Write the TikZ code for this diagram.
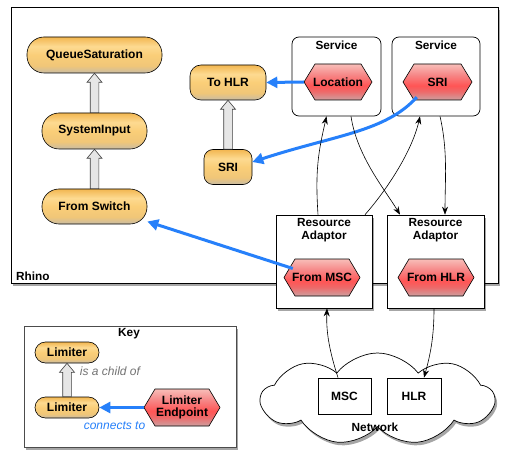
\documentclass[tikz,border=0pt]{standalone}
\usepackage{fontspec}
\setmainfont{Liberation Sans}
\usetikzlibrary{arrows.meta,shapes.misc,shapes.symbols,shadows,calc}
\definecolor{orA}{RGB}{242,182,80}
\definecolor{orB}{RGB}{253,218,145}
\definecolor{orM}{RGB}{250,206,120}
\definecolor{orL}{RGB}{240,198,120}
\definecolor{orC}{RGB}{200,188,165}
\definecolor{hxA}{RGB}{248,190,185}
\definecolor{hxU}{RGB}{246,135,135}
\definecolor{hxB}{RGB}{255,85,85}
\definecolor{hxL}{RGB}{238,105,105}
\definecolor{hxC}{RGB}{205,160,160}
\definecolor{lblue}{RGB}{38,128,250}
\definecolor{hgrey}{RGB}{230,230,230}
\pgfdeclareverticalshading{orshade}{100bp}{color(0bp)=(orC); color(25bp)=(orC); color(35bp)=(orL); color(50bp)=(orM); color(62bp)=(orB); color(75bp)=(orA); color(100bp)=(orA)}
\pgfdeclareverticalshading{hxshade}{100bp}{color(0bp)=(hxC); color(25bp)=(hxC); color(37bp)=(hxL); color(45bp)=(hxB); color(60bp)=(hxU); color(75bp)=(hxA); color(100bp)=(hxA)}
\newcommand\hexnode[6]{% name, x, y, w, h, text
  \path[hexshape] (#2-#4/2,#3) -- (#2-#4/2+11,#3-#5/2) -- (#2+#4/2-11,#3-#5/2) -- (#2+#4/2,#3) -- (#2+#4/2-11,#3+#5/2) -- (#2-#4/2+11,#3+#5/2) -- cycle;
  \node[hextext, minimum width=#4, minimum height=#5] (#1) at (#2,#3) {#6};
}
\newcommand\childarrow[2]{%
  \path[hollow] let \p1=(#1.north), \p2=(#2.south) in
    (\x1-4.3pt,\y1) -- (\x1-4.3pt,\y2-9pt) -- (\x1-7.5pt,\y2-9pt) -- (\x1,\y2) -- (\x1+7.5pt,\y2-9pt) -- (\x1+4.3pt,\y2-9pt) -- (\x1+4.3pt,\y1) -- cycle;
}
\tikzset{
  shad/.style={drop shadow={shadow xshift=2pt,shadow yshift=-3pt,opacity=.35,fill=black}},
  orangenode/.style={draw=black, line width=0.6pt, shading=orshade, inner sep=0pt, font=\fontsize{12}{13}\selectfont\bfseries},
  hexshape/.style={draw=black, line width=0.6pt, shading=hxshade},
  hextext/.style={inner sep=0pt, align=center, font=\fontsize{12}{12.5}\selectfont\bfseries},
  boxnode/.style={draw=black, line width=0.7pt, fill=white, inner sep=0pt},
  title/.style={inner sep=0pt, align=center, font=\fontsize{11.8}{13.5}\selectfont\bfseries},
  hollow/.style={draw=black!75, line width=0.6pt, fill=hgrey},
  bluearrow/.style={draw=lblue, line width=3pt, -{Triangle[length=11pt,width=11pt]}},
  ctl/.style={draw=black, line width=0.6pt, -{Stealth[length=8pt,width=6pt]}},
}
\begin{document}
\begin{tikzpicture}[x=1pt,y=-1pt]
\useasboundingbox (0,0) rectangle (513,462);
% Rhino container
\node[boxnode, shad, minimum width=487, minimum height=276] (rhino) at (254.5,145) {};
\node[title, anchor=west] (rhinolbl) at (16,276) {Rhino};
% Service boxes
\node[boxnode, rounded corners=7, minimum width=89, minimum height=79] (svc1) at (336.5,76.5) {};
\node[title] (svc1t) at (336.5,45) {Service};
\node[boxnode, rounded corners=7, minimum width=88, minimum height=79] (svc2) at (436,76.5) {};
\node[title] (svc2t) at (436,45) {Service};
% orange nodes
\node[orangenode, rounded corners=17, minimum width=135, minimum height=36] (qs) at (94.5,55) {QueueSaturation};
\node[orangenode, rounded corners=17, minimum width=105, minimum height=36] (sys) at (94.5,131) {SystemInput};
\node[orangenode, rounded corners=17, minimum width=105, minimum height=35] (fsw) at (94.5,206.5) {From Switch};
\node[orangenode, rounded corners=11, minimum width=76, minimum height=35] (tohlr) at (228,82.5) {To HLR};
\node[orangenode, rounded corners=9, minimum width=48, minimum height=35] (sri1) at (228,167) {SRI};
\childarrow{sys}{qs}
\childarrow{fsw}{sys}
\childarrow{sri1}{tohlr}
% hexagons in services
\hexnode{loc}{338}{82}{68}{36}{Location}
\hexnode{sri2}{437.5}{82}{69}{36}{SRI}
% resource adaptors
\node[boxnode, shad, minimum width=96, minimum height=93] (ra1) at (324,261.5) {};
\node[title] (ra1t) at (324,230) {Resource\\Adaptor};
\node[boxnode, shad, minimum width=97, minimum height=93] (ra2) at (435.5,261.5) {};
\node[title] (ra2t) at (435.5,230) {Resource\\Adaptor};
\hexnode{msc}{322}{277.5}{76}{37}{From MSC}
\hexnode{fhlr}{436}{277.5}{76}{37}{From HLR}
% network cloud
\node[cloud, cloud puffs=9, cloud puff arc=105, aspect=2.5, draw=black, line width=0.7pt, fill=white, shad, minimum width=233, minimum height=92, inner sep=0pt] (net) at (377.5,399) {};
\node[title] (netlbl) at (375,427.5) {Network};
\node[boxnode, minimum width=53, minimum height=36] (mscb) at (344.5,396) {\fontsize{12}{13}\selectfont\bfseries MSC};
\node[boxnode, minimum width=54, minimum height=36] (hlrb) at (414,396) {\fontsize{12}{13}\selectfont\bfseries HLR};
% key
\node[boxnode, draw=black!70, shad, minimum width=212, minimum height=121] (key) at (130,386.5) {};
\node[title] (keyt) at (129,334) {Key};
\node[orangenode, rounded corners=10.5, minimum width=64, minimum height=21] (lim1) at (67,352.5) {Limiter};
\node[orangenode, rounded corners=10.5, minimum width=64, minimum height=21] (lim2) at (67,407.5) {Limiter};
\childarrow{lim2}{lim1}
\node[inner sep=0pt, text=black!55, font=\fontsize{12}{14}\selectfont\itshape] (childlbl) at (110,371) {is a child of};
\hexnode{lep}{182}{407.5}{76}{37}{Limiter\\Endpoint}
\node[inner sep=0pt, text=lblue, font=\fontsize{12}{14}\selectfont\itshape] (connlbl) at (114.5,425.5) {connects to};
% connectors
\draw[bluearrow] (lep.west) -- (lim2.east);
\draw[bluearrow] (loc.west) -- (tohlr.east);
\draw[bluearrow] ($(sri2.south west)+(14,-3)$) .. controls (385,132) and (335,135) .. ($(sri1.east)+(0,-5)$);
\draw[bluearrow] ($(msc.west)+(9,-9)$) -- ($(fsw.east)+(0,15)$);
\draw[ctl] ([xshift=-6pt]ra1.north) .. controls +(-3,-45) and +(-8,35) .. ([xshift=-10pt]svc1.south);
\draw[ctl] ([xshift=41pt]ra1.north) .. controls +(22,-25) and +(-8,35) .. ([xshift=-16pt]svc2.south);
\draw[ctl] ([xshift=14.5pt]svc1.south) .. controls +(6,40) and +(-15,-25) .. ([xshift=-35.5pt]ra2.north);
\draw[ctl] ([xshift=4pt]svc2.south) .. controls +(8,35) and +(0,-35) .. ([xshift=9.5pt]ra2.north);
\draw[ctl] ([xshift=-6.5pt]mscb.north) .. controls +(-8,-25) and +(-1,25) .. ([xshift=3pt]ra1.south);
\draw[ctl] ([xshift=-1.5pt]ra2.south) .. controls +(0,30) and +(6,-22) .. ([xshift=10pt]hlrb.north);
\end{tikzpicture}
\end{document}
